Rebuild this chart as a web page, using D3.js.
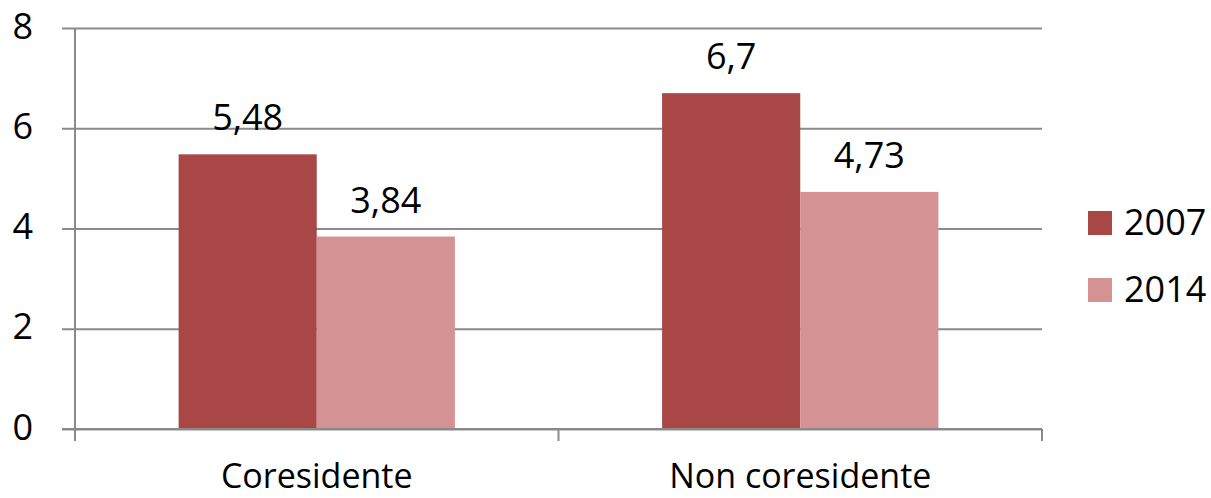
<!DOCTYPE html>
<html>
<head>
<meta charset="utf-8">
<script src="https://cdn.jsdelivr.net/npm/d3@7"></script>
<style>
  body { margin: 0; background: #fff; }
  text { font-family: "Open Sans", "Noto Sans", sans-serif; fill: #000; }
</style>
</head>
<body>
<svg id="chart"></svg>
<script>
const categories = ["Coresidente", "Non coresidente"];
const years = ["2007", "2014"];
const values2007 = [5.48, 6.7];
const values2014 = [3.84, 4.73];
const yTicks = [0, 2, 4, 6, 8];

const width = 1211;
const height = 498;
const padLeft = 75, padRight = 1042, padTop = 28, padBottom = 429;

const colors = d3.scaleOrdinal().domain(years).range(["#a94746", "#d49392"]);
const it = d3.formatLocale({ decimal: ",", thousands: ".", grouping: [3], currency: ["€", ""] });
const fmt = v => it.format(",")(v);

const rows = categories.map((c, i) => ({ cat: c, vals: [values2007[i], values2014[i]] }));

const svg = d3.select("#chart").attr("width", width).attr("height", height);

const xScale = d3.scaleBand().domain(categories).range([padLeft, padRight]);
const yScale = d3.scaleLinear().domain([0, 8]).range([padBottom, padTop]);
// excel style: gap width 150%
const barW = xScale.bandwidth() / 3.5;
const xInner = d3.scaleBand().domain(years).range([0, barW * 2]);

// gridlines + y ticks
const yAxis = d3.axisLeft(yScale)
                .tickValues(yTicks)
                .tickSize(-(padRight - padLeft) - 13)
                .tickPadding(29)
                .tickFormat(d3.format("d"));

svg.append("g")
   .attr("transform", `translate(${padLeft - 13}, 0)`)
   .call(yAxis)
   .call(g => g.select(".domain").remove())
   .call(g => g.selectAll("line").attr("stroke", "#8a8a8a").attr("stroke-width", 2))
   .call(g => g.selectAll("text").style("font-size", "36px").attr("dy", "0.28em"));

// vertical axis line
svg.append("line")
   .attr("x1", padLeft).attr("x2", padLeft)
   .attr("y1", padTop).attr("y2", padBottom)
   .attr("stroke", "#8a8a8a").attr("stroke-width", 2);

// bars
const groups = svg.selectAll("g.cat")
  .data(rows)
  .enter()
  .append("g")
    .attr("class", "cat")
    .attr("transform", d => `translate(${xScale(d.cat) + xScale.bandwidth() / 2 - barW}, 0)`);

groups.selectAll("rect")
  .data(d => d.vals.map((v, i) => ({ year: years[i], v })))
  .enter()
  .append("rect")
    .attr("x", d => xInner(d.year))
    .attr("y", d => yScale(d.v))
    .attr("width", xInner.bandwidth())
    .attr("height", d => padBottom - yScale(d.v))
    .attr("fill", d => colors(d.year));

groups.selectAll("text.val")
  .data(d => d.vals.map((v, i) => ({ year: years[i], v })))
  .enter()
  .append("text")
    .attr("class", "val")
    .attr("x", d => xInner(d.year) + xInner.bandwidth() / 2)
    .attr("y", d => yScale(d.v) - 24)
    .attr("text-anchor", "middle")
    .style("font-size", "36px")
    .text(d => fmt(d.v));

// x axis
const xAxis = d3.axisBottom(xScale).tickSize(0).tickPadding(0);
svg.append("g")
   .attr("transform", `translate(0, ${padBottom})`)
   .call(xAxis)
   .call(g => g.select(".domain").remove())
   .call(g => g.selectAll("text")
               .style("font-size", "34px")
               .attr("y", 59)
               .attr("dy", 0));

svg.append("line")
   .attr("x1", padLeft - 13).attr("x2", padRight)
   .attr("y1", padBottom).attr("y2", padBottom)
   .attr("stroke", "#8a8a8a").attr("stroke-width", 2);

// category separators
svg.selectAll("line.sep")
  .data([padLeft, ...categories.map(c => xScale(c) + xScale.bandwidth())])
  .enter()
  .append("line")
    .attr("class", "sep")
    .attr("x1", d => d).attr("x2", d => d)
    .attr("y1", padBottom).attr("y2", padBottom + 12)
    .attr("stroke", "#8a8a8a").attr("stroke-width", 2);

// legend
const legend = svg.selectAll("g.legend")
  .data(years)
  .enter()
  .append("g")
    .attr("class", "legend")
    .attr("transform", (d, i) => `translate(1088, ${211 + i * 67})`);

legend.append("rect")
  .attr("width", 24).attr("height", 24)
  .attr("fill", d => colors(d));

legend.append("text")
  .attr("x", 36).attr("y", 24)
  .style("font-size", "36px")
  .text(d => d);
</script>
</body>
</html>
